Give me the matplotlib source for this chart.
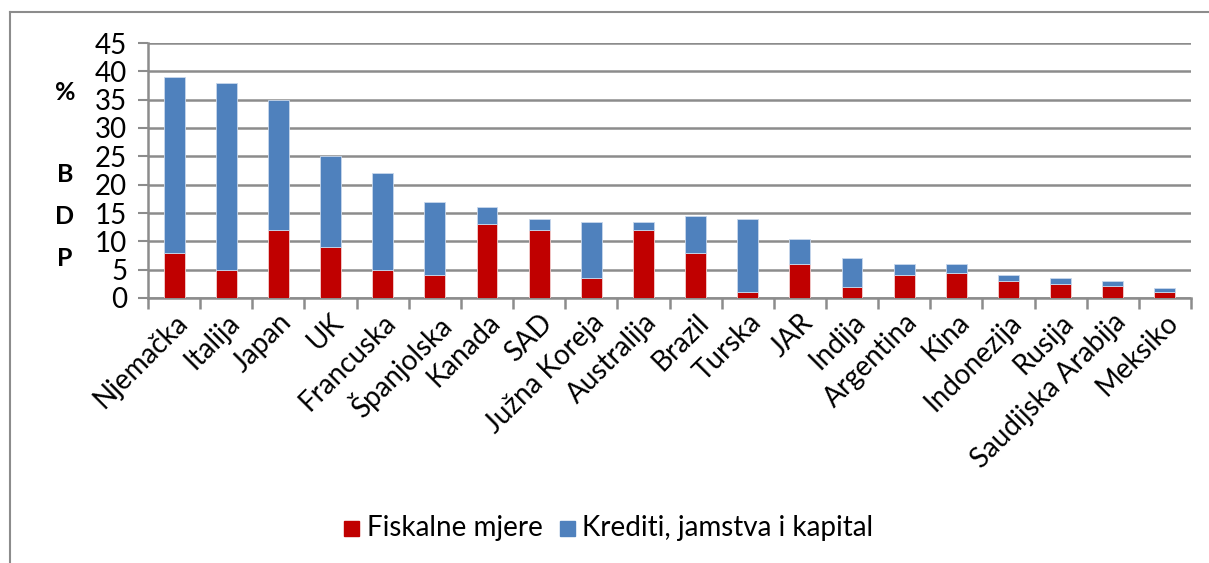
import matplotlib
matplotlib.use("Agg")
import matplotlib.pyplot as plt
from matplotlib.lines import Line2D
from matplotlib.patches import Rectangle
import numpy as np

plt.rcParams['font.family'] = ['Lato', 'DejaVu Sans']

countries = ["Njemačka", "Italija", "Japan", "UK", "Francuska", "Španjolska", "Kanada",
             "SAD", "Južna Koreja", "Australija", "Brazil", "Turska", "JAR", "Indija",
             "Argentina", "Kina", "Indonezija", "Rusija", "Saudijska Arabija", "Meksiko"]
fiskalne = [8, 5, 12, 9, 5, 4, 13, 12, 3.5, 12, 8, 1, 6, 2, 4, 4.5, 3, 2.5, 2.2, 1]
ukupno = [39, 38, 35, 25, 22, 17, 16, 14, 13.5, 13.5, 14.5, 14, 10.5, 7, 6, 6, 4, 3.5, 3, 1.8]
krediti = [t - f for t, f in zip(ukupno, fiskalne)]
yticks = [0, 5, 10, 15, 20, 25, 30, 35, 40, 45]

RED = "#C00000"
BLUE = "#4F81BD"
GRID = "#8C8C8C"
FS = 20

W, H = 1209, 563
fig = plt.figure(figsize=(W / 100, H / 100), dpi=100)
ax = fig.add_axes([148 / W, 1 - 298 / H, (1191 - 148) / W, (298 - 43) / H])

x = np.arange(len(countries))
ax.bar(x, fiskalne, width=0.4, color=RED, edgecolor="#F2D0D0", linewidth=0.6, zorder=3)
ax.bar(x, krediti, bottom=fiskalne, width=0.4, color=BLUE, edgecolor="#C8D8EC", linewidth=0.6, zorder=3)

ax.set_xlim(-0.5, len(countries) - 0.5)
ax.set_ylim(0, 45)
ax.set_yticks(yticks)
ax.set_yticklabels([str(v) for v in yticks], fontsize=FS)
ax.yaxis.grid(True, color=GRID, linewidth=1.8, zorder=0)
ax.set_axisbelow(True)

ax.set_xticks(x)
ax.set_xticklabels(countries, rotation=45, ha="right", rotation_mode="anchor", fontsize=FS)
ax.tick_params(axis="x", length=0, pad=8)
ax.set_xticks(np.arange(len(countries) + 1) - 0.5, minor=True)
ax.tick_params(axis="x", which="minor", length=8, width=1.8, color=GRID, direction="out")
ax.tick_params(axis="y", length=7, width=1.5, color=GRID, pad=8)

for s in ["top", "right"]:
    ax.spines[s].set_visible(False)
for s in ["left", "bottom"]:
    ax.spines[s].set_color(GRID)
    ax.spines[s].set_linewidth(1.8)

# vertical axis label letters
for ch, yp in zip(["%", "B", "D", "P"], [92, 175, 216, 259]):
    fig.text(65 / W, 1 - yp / H, ch, fontsize=18, fontweight="bold", ha="center", va="center")

# legend
ly = 1 - 528 / H
fig.patches.append(Rectangle((344 / W, ly - 7.5 / H), 15 / W, 15 / H, transform=fig.transFigure,
                             color=RED, figure=fig))
fig.text(367 / W, ly, "Fiskalne mjere", fontsize=FS, va="center", ha="left")
fig.patches.append(Rectangle((560 / W, ly - 7.5 / H), 15 / W, 15 / H, transform=fig.transFigure,
                             color=BLUE, figure=fig))
fig.text(582 / W, ly, "Krediti, jamstva i kapital", fontsize=FS, va="center", ha="left")

# outer frame (top and left lines)
fig.add_artist(Line2D([10 / W, 1.0], [1 - 12 / H, 1 - 12 / H], transform=fig.transFigure,
                      color="#8C8C8C", linewidth=1.5))
fig.add_artist(Line2D([10 / W, 10 / W], [1 - 12 / H, 0], transform=fig.transFigure,
                      color="#8C8C8C", linewidth=1.5))

fig.savefig("out.png", dpi=100)
